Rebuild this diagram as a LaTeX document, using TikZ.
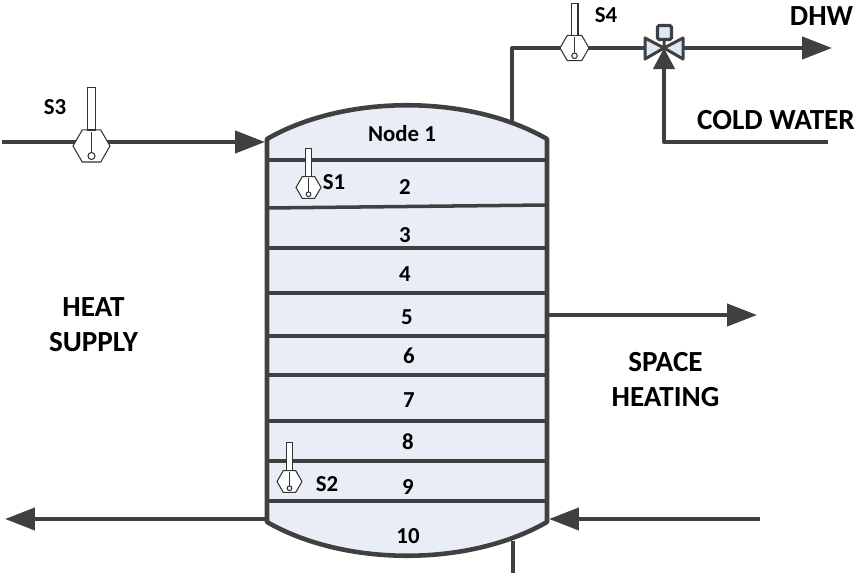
\documentclass[tikz,border=0pt]{standalone}
\usepackage{fontspec}
\setmainfont{Carlito}
\usepackage{xcolor}
\usetikzlibrary{arrows.meta,positioning,shapes.geometric}
\definecolor{pipegray}{HTML}{404040}
\definecolor{tankfill}{HTML}{E9EEF6}
\definecolor{valvefill}{HTML}{DCE8F3}

\begin{document}
\begin{tikzpicture}[
      x=0.02cm, y=-0.02cm,
      pipe/.style={line width=2.3pt, draw=pipegray, line join=round},
      flow/.style={pipe, -{Triangle[length=17pt,width=12.5pt]}},
      layer/.style={line width=2pt, draw=pipegray},
      sensorline/.style={line width=0.6pt, draw=black!80},
      hex/.style={regular polygon, regular polygon sides=6, sensorline, fill=white, inner sep=0pt, outer sep=0pt},
      lbl/.style={font=\bfseries\fontsize{13}{19}\selectfont, align=center, inner sep=0pt},
      biglbl/.style={font=\bfseries\fontsize{16.6}{19.8}\selectfont, align=center, inner sep=0pt}]
    \useasboundingbox (0,0) rectangle (857,573);
    % tank
    \coordinate (tl) at (267,139);
    \coordinate (tr) at (547,139);
    \coordinate (bl) at (267,522);
    \coordinate (br) at (547,522);
    \coordinate (topout) at (512,122);
    \coordinate (botout) at (513,541);
    \coordinate (botend) at (513,573);
    \draw[pipe] (botout) -- (botend);
    \draw[pipe, fill=tankfill, line width=2.6pt] (tl) .. controls (345,94) and (469,94) .. (tr)
      -- (br) .. controls (469,567) and (345,567) .. (bl) -- cycle;
    % layers
    \foreach \i/\yl/\yr in {1/160/160,2/208/205,3/248/248,4/293/293,5/336/336,6/375/375,7/421/421,8/461/461,9/501/501} {
      \coordinate (w\i) at (267,\yl);
      \coordinate (e\i) at (547,\yr);
      \draw[layer] (w\i) -- (e\i);
    }
    \node[lbl] (n1) at (402,134) {Node 1};
    \foreach \i/\x/\y in {2/405/187,3/405/235,4/405/274,5/407/317,6/409/356,7/409/400,8/408/442,9/408/487,10/408/536}
      \node[lbl] (n\i) at (\x,\y) {\i};
    % pipes
    \coordinate (hsin) at (2,142);
    \coordinate (hsend) at (265,142);
    \coordinate (shout) at (547,315);
    \coordinate (shend) at (757,315);
    \coordinate (hrout) at (267,519);
    \coordinate (hrend) at (5,519);
    \coordinate (srin) at (760,519);
    \coordinate (srend) at (549,519);
    \coordinate (topbend) at (512,48);
    \coordinate (vc) at (664,48);
    \coordinate (dhwend) at (832,48);
    \coordinate (cwin) at (828,142);
    \coordinate (cwbend) at (664,142);
    \draw[flow] (hsin) -- (hsend);
    \draw[flow] (shout) -- (shend);
    \draw[flow] (hrout) -- (hrend);
    \draw[flow] (srin) -- (srend);
    \draw[pipe] (topout) -- (topbend) -- (vc);
    \draw[flow] (vc) -- (dhwend);
    % valve
    \coordinate (vl1) at (645,38);
    \coordinate (vl2) at (645,59);
    \coordinate (vr1) at (683,38);
    \coordinate (vr2) at (683,59);
    \node[draw=pipegray, line width=1.8pt, fill=valvefill, rounded corners=1pt, minimum size=8pt, inner sep=0pt] (act) at (664.5,32.5) {};
    \draw[pipe, line width=1.7pt] (act) -- (vc);
    \draw[pipe, line width=1.7pt, fill=valvefill] (vc) -- (vl1) -- (vl2) -- cycle;
    \draw[pipe, line width=1.7pt, fill=valvefill] (vc) -- (vr1) -- (vr2) -- cycle;
    \draw[pipe, -{Triangle[length=12pt,width=12pt]}] (cwin) -- (cwbend) -- (vc);
    % sensors
    \foreach \n/\x/\y/\d/\h in {1/308.5/187.5/25/28,2/289.5/481.5/25/28,3/91.5/146/37/42,4/574.5/48/29/32} {
      \node[hex, minimum size=\d*0.02cm] (s\n) at (\x,\y) {};
      \draw[sensorline, fill=white] (\x-0.12*\d,\y-0.433*\d) rectangle ++(0.24*\d,-\h);
      \draw[sensorline] (\x,\y-0.38*\d) -- (\x,\y+0.17*\d);
      \draw[sensorline, fill=white] (\x,\y+0.27*\d) circle (0.095*\d*0.02cm);
    }
    \node[lbl] (l1) at (334,182) {S1};
    \node[lbl] (l2) at (327,484) {S2};
    \node[lbl] (l3) at (55,107) {S3};
    \node[lbl] (l4) at (606,15) {S4};
    \node[biglbl] (dhw) at (821.5,16) {DHW};
    \node[biglbl] (cold) at (776,120.5) {COLD WATER};
    \node[biglbl] (heat) at (93.5,324.5) {HEAT\\SUPPLY};
    \node[biglbl] (space) at (665.5,379.5) {SPACE\\HEATING};
  \end{tikzpicture}
\end{document}
